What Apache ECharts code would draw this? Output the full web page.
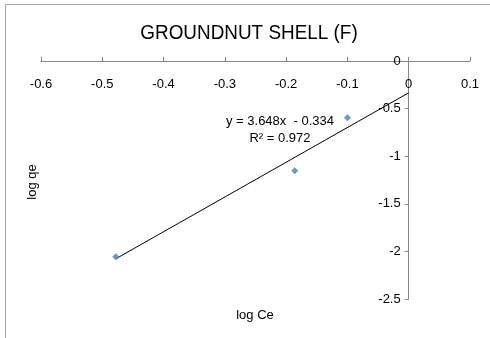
<!DOCTYPE html>
<html>
<head>
<meta charset="utf-8">
<script src="https://cdn.jsdelivr.net/npm/echarts@6/dist/echarts.min.js"></script>
<style>
html,body{margin:0;padding:0;background:#fff;}
#chart{width:490px;height:338px;}
</style>
</head>
<body>
<div id="chart"></div>
<script>
const chartTitle = 'GROUNDNUT SHELL (F)';
const xName = 'log Ce';
const yName = 'log qe';
const logCe = [-0.478, -0.186, -0.1];
const logQe = [-2.056, -1.152, -0.595];
const trendX = [-0.478, 0];
const trendY = [-2.078, -0.334];
const eqLine1 = 'y = 3.648x  - 0.334';
const eqLine2 = 'R² = 0.972';

const FONT = '"Liberation Sans", Arial, sans-serif';
const chart = echarts.init(document.getElementById('chart'), null, {renderer: 'canvas'});

const gridLeft = 41, gridRight = 20, W = 490;
const xMin = -0.6, xMax = 0.1;
const plotW = W - gridLeft - gridRight;
const yAxisOffset = -plotW * (0 - xMin) / (xMax - xMin);

function fmt(v) {
  const r = Math.round(v * 10) / 10;
  return String(r);
}

chart.setOption({
  animation: false,
  backgroundColor: '#fff',
  textStyle: {fontFamily: FONT},
  grid: {left: gridLeft, right: gridRight, top: 61, bottom: 39, containLabel: false},
  xAxis: {
    type: 'value', position: 'top', min: xMin, max: xMax, interval: 0.1,
    axisLine: {onZero: false, lineStyle: {color: '#868686', width: 1}},
    axisTick: {show: true, inside: false, length: 4, lineStyle: {color: '#868686'}},
    axisLabel: {inside: true, margin: 17, color: '#000', fontSize: 13, fontFamily: FONT, formatter: fmt},
    splitLine: {show: false}
  },
  yAxis: {
    type: 'value', position: 'left', offset: yAxisOffset, min: -2.5, max: 0, interval: 0.5,
    axisLine: {onZero: false, lineStyle: {color: '#868686', width: 1}},
    axisTick: {show: true, inside: false, length: 4, lineStyle: {color: '#868686'}},
    axisLabel: {margin: 8, color: '#000', fontSize: 13, fontFamily: FONT, formatter: fmt},
    splitLine: {show: false}
  },
  graphic: [
    {type: 'rect', shape: {x: 5.5, y: 4.5, width: 490, height: 340}, style: {fill: 'none', stroke: '#a6a6a6', lineWidth: 1}, silent: true, z: -1},
    {type: 'text', x: 249, y: 33, scaleX: 0.9, style: {text: chartTitle, font: '21px ' + FONT, fill: '#000', textAlign: 'center', textVerticalAlign: 'middle'}},
    {type: 'text', x: 255, y: 315, style: {text: xName, font: '13px ' + FONT, fill: '#000', textAlign: 'center', textVerticalAlign: 'middle'}},
    {type: 'text', x: 32, y: 182, rotation: Math.PI / 2, style: {text: yName, font: '13px ' + FONT, fill: '#000', textAlign: 'center', textVerticalAlign: 'middle'}},
    {type: 'text', x: 280, y: 121, style: {text: eqLine1, font: '13px ' + FONT, fill: '#000', textAlign: 'center', textVerticalAlign: 'middle'}},
    {type: 'text', x: 280, y: 138, style: {text: eqLine2, font: '13px ' + FONT, fill: '#000', textAlign: 'center', textVerticalAlign: 'middle'}}
  ],
  series: [
    {
      type: 'line',
      data: trendX.map((x, i) => [x, trendY[i]]),
      symbol: 'none',
      lineStyle: {color: '#000', width: 1},
      z: 2
    },
    {
      type: 'scatter',
      data: logCe.map((x, i) => [x, logQe[i]]),
      symbol: 'diamond',
      symbolSize: 7,
      itemStyle: {color: '#4a7ebb'},
      z: 3
    }
  ]
});
</script>
</body>
</html>
